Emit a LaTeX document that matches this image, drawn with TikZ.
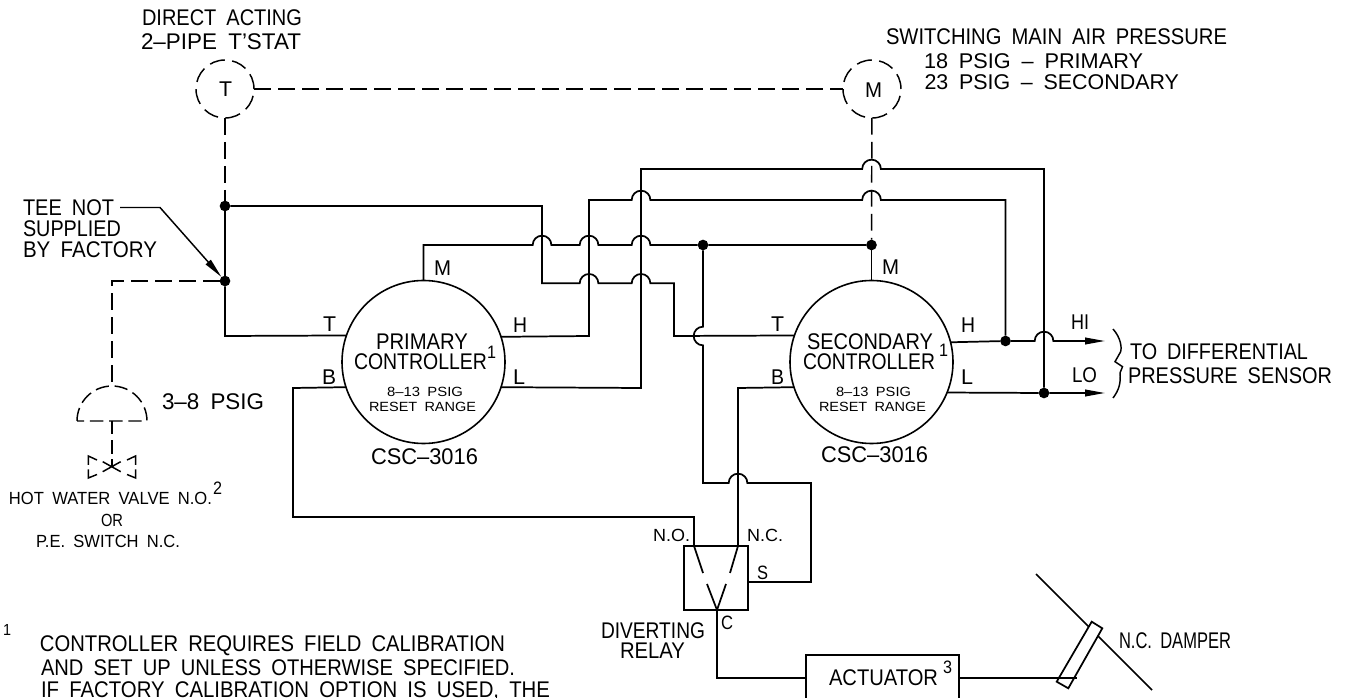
\documentclass[tikz,border=0pt]{standalone}
\usepackage{fontspec}
\setmainfont{Liberation Sans}
\usetikzlibrary{arrows.meta}
\newsavebox\fbx
\newcommand\fitw[2]{\sbox\fbx{\spaceskip=0.5em\relax #2}\dp\fbx=0pt\relax\pgfmathsetmacro\fitf{(#1)*0.75/\the\wd\fbx}\scalebox{\fitf}[1]{\usebox\fbx}}
% name, left, right, centre y, font size (pt), text
\newcommand\lab[6]{\node[lbl,font=\fontsize{#5}{#5}\selectfont] (#1) at ({(#2+#3)/2},#4) {\fitw{#3-#2}{#6}};}
\def\hopu#1#2{-- ({#1-9.3},#2) arc[start angle=180,end angle=0,radius=7pt]}
\tikzset{
  lbl/.style={inner sep=0pt,outer sep=0pt,anchor=center},
  wire/.style={line width=1.3pt,line join=miter},
  thin wire/.style={line width=1.1pt},
  longdash/.style={line width=1.1pt,dash pattern=on 12.5pt off 5.5pt},
  circdash/.style={line width=1.1pt,dash pattern=on 11.6pt off 5.5pt},
  shortdash/.style={line width=1.1pt,dash pattern=on 10pt off 4.4pt},
  ctrl/.style={circle,draw,line width=1.2pt,minimum size=122.25pt,inner sep=0pt,outer sep=0pt},
  gauge/.style={circle,draw,circdash,minimum size=43.5pt,inner sep=0pt,outer sep=0pt},
  jdot/.style={circle,fill=black,inner sep=0pt,minimum size=8pt,outer sep=0pt},
  tip/.style={-{Triangle[length=15pt,width=5pt]}},
  plainbox/.style={draw,line width=1.3pt,inner sep=0pt,outer sep=0pt}
}
\begin{document}
\begin{tikzpicture}[x=0.75pt,y=-0.75pt]
\useasboundingbox (0,0) rectangle (1347,698);
\fill[white] (0,0) rectangle (1347,698);
\clip (0,0) rectangle (1347,698);

% main shapes
\node[ctrl] (pri) at (423.5,362) {};
\node[ctrl] (sec) at (871.5,362) {};
\node[gauge] (tstat) at (225,89) {};
\node[gauge] (mgauge) at (872,89) {};
\node[jdot] (dA) at (225,206) {};
\node[jdot] (dB) at (225,281) {};
\node[jdot] (dC) at (703,245) {};
\node[jdot] (dD) at (871.5,245) {};
\node[jdot] (dE) at (1005.5,341) {};
\node[jdot] (dF) at (1044,393) {};
\coordinate (hiend) at (1105,341);
\coordinate (loend) at (1105,393);

% relay and actuator
\node[plainbox,minimum width=48pt,minimum height=48pt] (relay) at (716,578) {};
\node[plainbox,minimum width=114.75pt,minimum height=49.5pt] (act) at (882.5,688) {};

% dashed pneumatic lines
\draw[longdash] (tstat) -- (mgauge);
\draw[longdash] (tstat) -- (dA);
\draw[longdash] (mgauge) -- (dD);
\draw[longdash] (dB) -- (112,281) -- (112,386);
\coordinate (domeL) at (77,421);
\coordinate (domeR) at (147,421);
\coordinate (domeT) at (112,386);
\coordinate (vlv) at (112,467);
\draw[shortdash] (domeL) arc[start angle=180,end angle=0,radius=26.25pt] -- cycle;
\draw[shortdash] (112,421) -- (vlv);

% valve
\draw[line width=1.1pt] (102.7,461.7) -- (120.7,471.7) (102.7,471.7) -- (120.7,461.7);
\draw[line width=1.1pt] (88.3,465) -- (88.3,456) -- (97,460);
\draw[line width=1.1pt] (88.3,469.5) -- (88.3,478) -- (97,474.5);
\draw[line width=1.1pt] (135.6,465) -- (135.6,456) -- (127,460);
\draw[line width=1.1pt] (135.6,469.5) -- (135.6,478) -- (127,474.5);

% solid wiring
\draw[wire] (dA) -- (dB);
\draw[wire] (dB) -- (225,336) -- (pri.161.4);
\draw[wire] (dA) -- (542,206) -- (542,283.3) \hopu{589}{283.3} \hopu{641}{283.3} -- (674,283.3) -- (674,336) -- (sec.161.4);
\draw[wire] (pri.north) -- (423.5,245) \hopu{542}{245} \hopu{589}{245} \hopu{641}{245} -- (dC) -- (dD);
\draw[wire] (dD) -- (sec.north);
\draw[wire] (pri.18.6) -- (589,336) -- (589,200) \hopu{641}{200} \hopu{871.5}{200} -- (1005.5,200) -- (dE);
\draw[wire] (pri.-18.6) -- (641,388) -- (641,169) \hopu{871.5}{169} -- (1044,169) -- (dF);
\draw[wire] (pri.198.6) -- (293,388) -- (293,517) -- (694,517) -- (694,546);
\draw[wire] (sec.198.6) -- (738,388) -- (738,546);
\draw[wire] (dC) -- (703,326.7) arc[start angle=90,end angle=270,radius=7pt] -- (703,483) \hopu{738}{483} -- (811,483) -- (811,582) -- (relay.east |- 0,582);
\draw[wire] (717,610) -- (717,678) -- (act.west |- 0,678);
\draw[wire] (act.east |- 0,678) -- (1076.7,678);
\draw[wire,tip] (sec.14.9) -- (dE) \hopu{1044}{341} -- (hiend);
\draw[wire,tip] (sec.-22.3) -- (dF) -- (loend);

% relay blades
\draw[wire] (694,546) -- (703,573);
\draw[wire] (738,546) -- (730,573);
\draw[wire] (707,584) -- (717,610) -- (726,584);

% damper
\draw[thin wire] (1036,574) -- (1152,690);
\draw[wire,fill=white] (1091.7,621.7) -- (1102.3,628.3) -- (1068.3,688.3) -- (1056.7,681.7) -- cycle;
\draw[wire] (1040,678) -- (1076.7,678);

% leader
\coordinate (leadKnee) at (160,207.5);
\draw[thin wire,tip] (120,207.5) -- (leadKnee) -- (dB);

% brace
\draw[thin wire] (1113,329) .. controls (1121,338) and (1122,348) .. (1120.5,352) -- (1115,361.7) -- (1122.5,366.7) -- (1120,373) .. controls (1121,383) and (1119,390) .. (1113,398);

% texts
\lab{t1}{142}{302}{18}{17}{DIRECT ACTING}
\lab{t2}{141}{301}{41.5}{17}{2–PIPE T'STAT}
\lab{t3}{219}{232}{89.5}{16}{T}
\lab{t4}{865}{882}{90}{16}{M}
\lab{t5}{886}{1227}{37}{17}{SWITCHING MAIN AIR PRESSURE}
\lab{t6}{924}{1143}{61}{16}{18 PSIG – PRIMARY}
\lab{t7}{924.5}{1179}{81.7}{16}{23 PSIG – SECONDARY}
\lab{t8}{23}{114}{208}{17}{TEE NOT}
\lab{t9}{23}{121}{229}{17}{SUPPLIED}
\lab{t10}{23}{157}{250}{17}{BY FACTORY}
\lab{t11}{323}{336}{324}{16}{T}
\lab{t12}{434}{451}{268}{16}{M}
\lab{t13}{513}{527}{325}{16}{H}
\lab{t14}{513}{525}{377}{16}{L}
\lab{t15}{322}{336}{377}{16}{B}
\lab{t16}{376}{468}{342}{17}{PRIMARY}
\lab{t17}{354}{487}{362}{17}{CONTROLLER}
\lab{t18}{487}{496}{352}{13.5}{1}
\lab{t19}{387}{463}{392}{10}{8–13 PSIG}
\lab{t20}{369}{476}{407}{10}{RESET RANGE}
\lab{t21}{371}{478}{457}{17}{CSC–3016}
\lab{t22}{807}{933}{342}{17}{SECONDARY}
\lab{t23}{803}{935}{362}{17}{CONTROLLER}
\lab{t24}{939}{948}{350}{13.5}{1}
\lab{t25}{836}{911}{392}{10}{8–13 PSIG}
\lab{t26}{819}{926}{407}{10}{RESET RANGE}
\lab{t27}{821}{928}{455}{17}{CSC–3016}
\lab{t28}{771}{784}{324}{16}{T}
\lab{t29}{771}{784}{377}{16}{B}
\lab{t30}{882}{899}{267}{16}{M}
\lab{t31}{961}{975}{325}{16}{H}
\lab{t32}{961}{973}{377}{16}{L}
\lab{t33}{1071}{1089}{322}{16}{HI}
\lab{t34}{1072}{1097}{375}{16}{LO}
\lab{t35}{1130}{1308}{352}{17}{TO DIFFERENTIAL}
\lab{t36}{1128}{1332}{376}{17}{PRESSURE SENSOR}
\lab{t37}{162}{264}{402}{17}{3–8 PSIG}
\lab{t38}{9}{212}{498}{13.2}{HOT WATER VALVE N.O.}
\lab{t39}{213}{222}{488}{13.5}{2}
\lab{t40}{101}{123}{520}{13.2}{OR}
\lab{t41}{36}{180}{541}{13.2}{P.E. SWITCH N.C.}
\lab{t42}{3}{11}{630}{12}{1}
\lab{t43}{40}{505}{644}{17}{CONTROLLER REQUIRES FIELD CALIBRATION}
\lab{t44}{41}{515}{668}{17}{AND SET UP UNLESS OTHERWISE SPECIFIED.}
\lab{t45}{41}{550}{690}{17}{IF FACTORY CALIBRATION OPTION IS USED, THE}
\lab{t46}{653}{690}{535}{13.2}{N.O.}
\lab{t47}{747}{783}{535}{13.2}{N.C.}
\lab{t48}{757}{768}{573}{14.5}{S}
\lab{t49}{721}{733}{623}{14.5}{C}
\lab{t50}{601}{705}{631}{17}{DIVERTING}
\lab{t51}{620}{685}{651}{17}{RELAY}
\lab{t52}{829}{938}{678}{17}{ACTUATOR}
\lab{t53}{943}{952}{667}{13.5}{3}
\lab{t54}{1119}{1231}{641}{17}{N.C. DAMPER}
\end{tikzpicture}
\end{document}
